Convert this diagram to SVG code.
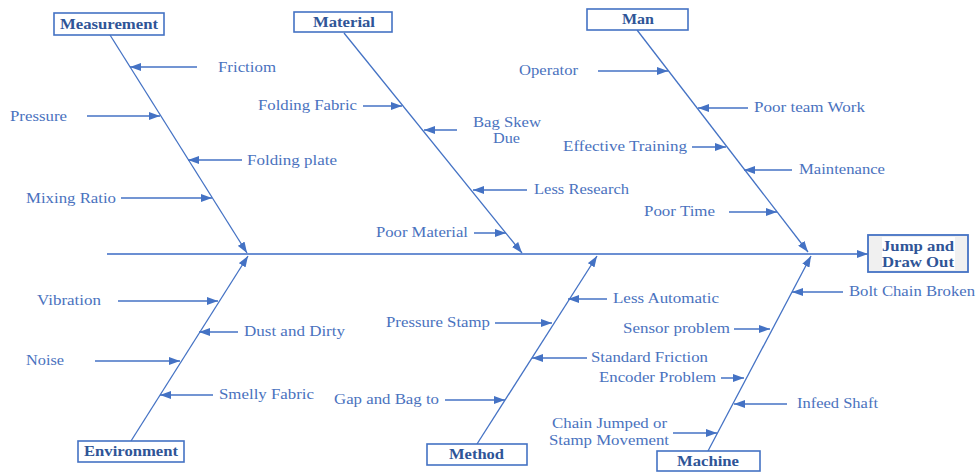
<svg xmlns="http://www.w3.org/2000/svg" width="977" height="472" viewBox="0 0 977 472">
  <style>
    .box { fill: #ffffff; stroke: #4472C4; stroke-width: 1.6; }
    .head { font-family: "Liberation Serif", "Times New Roman", serif; font-weight: bold; font-size: 14px; fill: #2F5597; }
    .cause { font-family: "Liberation Serif", "Times New Roman", serif; font-size: 14px; fill: #4A72BE; }
    .bone { stroke: #4472C4; stroke-width: 1.3; fill: none; }
    .spine { stroke: #6B8FD3; stroke-width: 2; fill: none; }
    .sub { stroke: #4472C4; stroke-width: 1.5; fill: none; }
  </style>
  <defs>
    <marker id="tri" markerUnits="userSpaceOnUse" markerWidth="11" markerHeight="8" refX="11" refY="4" orient="auto">
      <path d="M0,0 L11,4 L0,8 z" fill="#4472C4"/>
    </marker>
  </defs>
  <rect width="977" height="472" fill="#ffffff"/>

  <!-- connectors: spine, category bones and cause arrows -->
  <g id="connectors" marker-end="url(#tri)">
    <line class="spine" x1="107" y1="254" x2="868" y2="254"/>
    <line class="bone" x1="110" y1="35" x2="247" y2="253"/>
    <line class="bone" x1="344" y1="33" x2="522" y2="253"/>
    <line class="bone" x1="637" y1="30" x2="808" y2="252"/>
    <line class="bone" x1="131" y1="441" x2="248" y2="256"/>
    <line class="bone" x1="477" y1="444" x2="597" y2="256"/>
    <line class="bone" x1="708" y1="451" x2="811" y2="256"/>

    <line class="sub" x1="197" y1="67" x2="130" y2="67"/>
    <line class="sub" x1="87" y1="116" x2="160" y2="116"/>
    <line class="sub" x1="242" y1="160" x2="188" y2="160"/>
    <line class="sub" x1="121" y1="198" x2="212" y2="198"/>

    <line class="sub" x1="363" y1="106" x2="402" y2="106"/>
    <line class="sub" x1="457" y1="130" x2="424" y2="130"/>
    <line class="sub" x1="527" y1="190" x2="473" y2="190"/>
    <line class="sub" x1="474" y1="233" x2="506" y2="233"/>

    <line class="sub" x1="598" y1="71" x2="668" y2="71"/>
    <line class="sub" x1="748" y1="108" x2="698" y2="108"/>
    <line class="sub" x1="692" y1="147" x2="726" y2="147"/>
    <line class="sub" x1="792" y1="170" x2="744" y2="170"/>
    <line class="sub" x1="729" y1="212" x2="777" y2="212"/>

    <line class="sub" x1="118" y1="301" x2="218" y2="301"/>
    <line class="sub" x1="238" y1="332" x2="199" y2="332"/>
    <line class="sub" x1="95" y1="361" x2="180" y2="361"/>
    <line class="sub" x1="213" y1="395" x2="160" y2="395"/>

    <line class="sub" x1="607" y1="299" x2="568" y2="299"/>
    <line class="sub" x1="495" y1="323" x2="552" y2="323"/>
    <line class="sub" x1="587" y1="358" x2="532" y2="358"/>
    <line class="sub" x1="445" y1="400" x2="505" y2="400"/>

    <line class="sub" x1="843" y1="292" x2="792" y2="292"/>
    <line class="sub" x1="734" y1="329" x2="770" y2="329"/>
    <line class="sub" x1="721" y1="378" x2="744" y2="378"/>
    <line class="sub" x1="787" y1="404" x2="734" y2="404"/>
    <line class="sub" x1="673" y1="433" x2="717" y2="433"/>
  </g>

  <!-- effect -->
  <g id="effect">
    <rect x="868" y="235" width="100" height="37" fill="#F0F0F0" stroke="#4472C4" stroke-width="1.8"/>
    <rect x="882" y="237" width="73" height="33" fill="#ffffff"/>
    <text class="head" x="882" y="251" textLength="72" lengthAdjust="spacingAndGlyphs">Jump and</text>
    <text class="head" x="882" y="267" textLength="72" lengthAdjust="spacingAndGlyphs">Draw Out</text>
  </g>

  <!-- category heads -->
  <g id="measurement">
    <rect class="box" x="54" y="13" width="110" height="22"/>
    <text class="head" x="60" y="29" textLength="98" lengthAdjust="spacingAndGlyphs">Measurement</text>
  </g>
  <g id="material">
    <rect class="box" x="294" y="12" width="98" height="20"/>
    <text class="head" x="313" y="27" textLength="62" lengthAdjust="spacingAndGlyphs">Material</text>
  </g>
  <g id="man">
    <rect class="box" x="587" y="9" width="101" height="21"/>
    <text class="head" x="622" y="24" textLength="32" lengthAdjust="spacingAndGlyphs">Man</text>
  </g>
  <g id="environment">
    <rect class="box" x="78" y="441" width="106" height="21"/>
    <text class="head" x="84" y="456" textLength="94" lengthAdjust="spacingAndGlyphs">Environment</text>
  </g>
  <g id="method">
    <rect class="box" x="427" y="444" width="100" height="21"/>
    <text class="head" x="449" y="459" textLength="55" lengthAdjust="spacingAndGlyphs">Method</text>
  </g>
  <g id="machine">
    <rect class="box" x="657" y="451" width="103" height="20"/>
    <text class="head" x="677" y="466" textLength="62" lengthAdjust="spacingAndGlyphs">Machine</text>
  </g>

  <!-- causes: measurement -->
  <g id="causes-measurement" class="cause">
    <text x="218" y="72" textLength="58" lengthAdjust="spacingAndGlyphs">Frictiom</text>
    <text x="10" y="121" textLength="57" lengthAdjust="spacingAndGlyphs">Pressure</text>
    <text x="247" y="165" textLength="90" lengthAdjust="spacingAndGlyphs">Folding plate</text>
    <text x="26" y="203" textLength="90" lengthAdjust="spacingAndGlyphs">Mixing Ratio</text>
  </g>

  <!-- causes: material -->
  <g id="causes-material" class="cause">
    <text x="258" y="110" textLength="99" lengthAdjust="spacingAndGlyphs">Folding Fabric</text>
    <text x="473" y="127" textLength="68" lengthAdjust="spacingAndGlyphs">Bag Skew</text>
    <text x="493" y="143" textLength="27" lengthAdjust="spacingAndGlyphs">Due</text>
    <text x="534" y="194" textLength="95" lengthAdjust="spacingAndGlyphs">Less Research</text>
    <text x="376" y="237" textLength="92" lengthAdjust="spacingAndGlyphs">Poor Material</text>
  </g>

  <!-- causes: man -->
  <g id="causes-man" class="cause">
    <text x="519" y="75" textLength="59" lengthAdjust="spacingAndGlyphs">Operator</text>
    <text x="754" y="112" textLength="111" lengthAdjust="spacingAndGlyphs">Poor team Work</text>
    <text x="563" y="151" textLength="124" lengthAdjust="spacingAndGlyphs">Effective Training</text>
    <text x="799" y="174" textLength="86" lengthAdjust="spacingAndGlyphs">Maintenance</text>
    <text x="644" y="216" textLength="71" lengthAdjust="spacingAndGlyphs">Poor Time</text>
  </g>

  <!-- causes: environment -->
  <g id="causes-environment" class="cause">
    <text x="37" y="305" textLength="64" lengthAdjust="spacingAndGlyphs">Vibration</text>
    <text x="244" y="336" textLength="101" lengthAdjust="spacingAndGlyphs">Dust and Dirty</text>
    <text x="26" y="365" textLength="38" lengthAdjust="spacingAndGlyphs">Noise</text>
    <text x="219" y="399" textLength="95" lengthAdjust="spacingAndGlyphs">Smelly Fabric</text>
  </g>

  <!-- causes: method -->
  <g id="causes-method" class="cause">
    <text x="613" y="303" textLength="106" lengthAdjust="spacingAndGlyphs">Less Automatic</text>
    <text x="386" y="327" textLength="104" lengthAdjust="spacingAndGlyphs">Pressure Stamp</text>
    <text x="591" y="362" textLength="117" lengthAdjust="spacingAndGlyphs">Standard Friction</text>
    <text x="334" y="404" textLength="105" lengthAdjust="spacingAndGlyphs">Gap and Bag to</text>
  </g>

  <!-- causes: machine -->
  <g id="causes-machine" class="cause">
    <text x="849" y="296" textLength="126" lengthAdjust="spacingAndGlyphs">Bolt Chain Broken</text>
    <text x="623" y="333" textLength="107" lengthAdjust="spacingAndGlyphs">Sensor problem</text>
    <text x="599" y="382" textLength="117" lengthAdjust="spacingAndGlyphs">Encoder Problem</text>
    <text x="797" y="408" textLength="81" lengthAdjust="spacingAndGlyphs">Infeed Shaft</text>
    <text x="552" y="428" textLength="115" lengthAdjust="spacingAndGlyphs">Chain Jumped or</text>
    <text x="549" y="445" textLength="120" lengthAdjust="spacingAndGlyphs">Stamp Movement</text>
  </g>
</svg>
